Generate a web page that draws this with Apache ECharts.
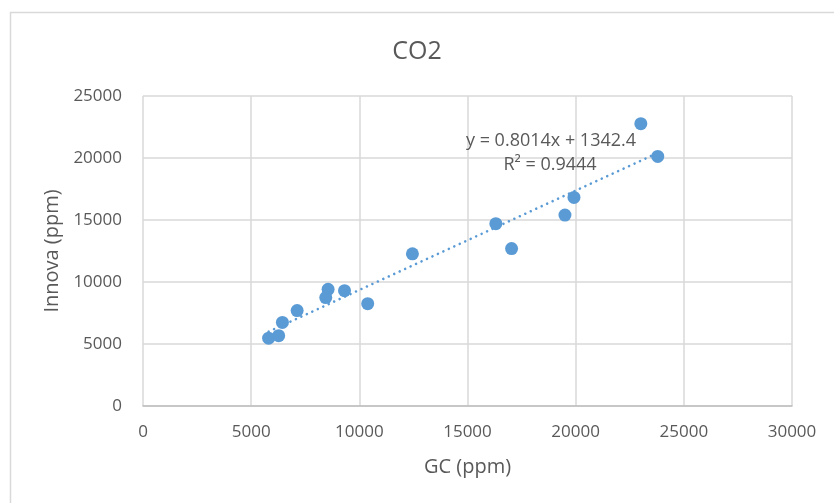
<!DOCTYPE html>
<html>
<head>
<meta charset="utf-8">
<script src="https://cdn.jsdelivr.net/npm/echarts@6/dist/echarts.min.js"></script>
<style>
  html, body { margin: 0; padding: 0; background: #fff; }
  #chart { width: 834px; height: 503px; }
</style>
</head>
<body>
<div id="chart"></div>
<script>
// CO2 readings: gas chromatograph vs Innova analyser (ppm)
const gcPpm     = [5806, 6272, 6444, 7125, 8556, 8448, 9315, 10387, 12454, 16310, 17037, 19505, 19922, 23012, 23794];
const innovaPpm = [5470, 5668, 6741, 7698, 9406, 8746, 9299, 8251, 12270, 14706, 12698, 15397, 16823, 22766, 20129];

// Linear fit reported for the data
const slope = 0.8014;
const intercept = 1342.4;
const rSquared = 0.9444;

const xTicks = [0, 5000, 10000, 15000, 20000, 25000, 30000];
const yTicks = [0, 5000, 10000, 15000, 20000, 25000];

const points = gcPpm.map((x, i) => [x, innovaPpm[i]]);
const xMin = Math.min(...gcPpm);
const xMax = Math.max(...gcPpm);
const fitLine = [[xMin, slope * xMin + intercept], [xMax, slope * xMax + intercept]];

const textColor = '#595959';
const gridColor = '#d9d9d9';
const blue = '#5b9bd5';
const font = '"Open Sans", "Noto Sans", sans-serif';
const plain = v => String(v);

const chart = echarts.init(document.getElementById('chart'), null, { renderer: 'canvas' });
chart.setOption({
  animation: false,
  backgroundColor: '#fff',
  textStyle: { fontFamily: font },
  title: {
    text: 'CO2',
    left: 'center',
    top: 34,
    textStyle: { color: textColor, fontSize: 25, fontWeight: 'normal', fontFamily: font }
  },
  grid: { left: 143, right: 42, top: 96, bottom: 97 },
  xAxis: {
    type: 'value',
    min: xTicks[0],
    max: xTicks[xTicks.length - 1],
    interval: xTicks[1] - xTicks[0],
    name: 'GC (ppm)',
    nameLocation: 'middle',
    nameGap: 51,
    nameTextStyle: { color: textColor, fontSize: 20, fontFamily: font },
    axisLine: { show: true, lineStyle: { color: '#bfbfbf', width: 1.5 } },
    axisTick: { show: false },
    axisLabel: { color: textColor, fontSize: 17, margin: 18, fontFamily: font, formatter: plain },
    splitLine: { show: true, lineStyle: { color: gridColor, width: 1.5 } }
  },
  yAxis: {
    type: 'value',
    min: yTicks[0],
    max: yTicks[yTicks.length - 1],
    interval: yTicks[1] - yTicks[0],
    name: 'Innova (ppm)',
    nameLocation: 'middle',
    nameGap: 80,
    nameTextStyle: { color: textColor, fontSize: 20, fontFamily: font },
    axisLine: { show: false },
    axisTick: { show: false },
    axisLabel: { color: textColor, fontSize: 17, margin: 21, fontFamily: font, formatter: plain },
    splitLine: { show: true, lineStyle: { color: gridColor, width: 1.5 } }
  },
  graphic: [
    {
      type: 'rect',
      left: 8, top: 10,
      shape: { width: 900, height: 600 },
      style: { fill: 'none', stroke: gridColor, lineWidth: 1.5 },
      silent: true, z: -1
    },
    {
      type: 'text',
      x: 551, y: 141,
      style: {
        text: 'y = ' + slope.toFixed(4) + 'x + ' + intercept.toFixed(1),
        fill: textColor, font: '18px ' + font, align: 'center', verticalAlign: 'middle'
      },
      z: 10
    },
    {
      type: 'text',
      x: 550, y: 165,
      style: {
        text: 'R\u00B2 = ' + rSquared.toFixed(4),
        fill: textColor, font: '18px ' + font, align: 'center', verticalAlign: 'middle'
      },
      z: 10
    }
  ],
  series: [
    {
      type: 'scatter',
      data: points,
      symbol: 'circle',
      symbolSize: 13,
      itemStyle: { color: blue, opacity: 1 },
      z: 3
    },
    {
      type: 'line',
      data: fitLine,
      showSymbol: false,
      symbol: 'none',
      lineStyle: { color: blue, width: 2.6, type: [0.01, 6], cap: 'round' },
      z: 4
    }
  ]
});
</script>
</body>
</html>
